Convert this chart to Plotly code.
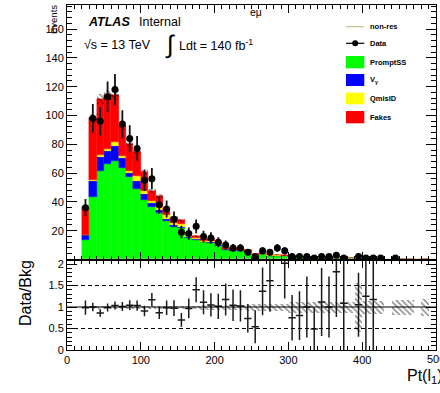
import numpy as np
import plotly.graph_objects as go

# ---------------------------------------------------------------------------
# Binning: leading-lepton pT, 10 GeV bins from 20 to 500 GeV
# ---------------------------------------------------------------------------
bin_low, bin_high, bin_width = 20, 500, 10

# Observed events per bin
data_counts = [36, 98, 96, 113, 118, 94, 84, 77, 55, 56,
               38, 35, 28, 19, 18, 23, 16, 15, 12, 10,
               8, 8, 5, 2, 6, 5, 8, 6, 2, 2,
               2, 1, 2, 2, 3, 1, 0, 2, 1, 1,
               1, 0, 1, 0, 0, 0, 0, 0]

# Background predictions (stacked, bottom to top)
prompt_ss = [13.5, 43.6, 61.4, 66.3, 68.4, 63.2, 57.6, 48.9, 41.3, 36.2,
             32.5, 26.9, 22.8, 21.6, 15.0, 13.5, 12.0, 11.6, 9.6, 6.8,
             6.2, 6.2, 5.4, 2.9, 3.5, 2.5, 2.6, 2.4, 2.1, 2.0,
             1.6, 1.6, 1.4, 1.6, 1.3, 0.7, 0.8, 1.5, 0.65, 0.7,
             0.4, 0.0, 0.3, 0.4, 0.3, 0.0, 0.3, 0.0]
v_gamma = [3.5, 11.1, 10.0, 9.0, 10.6, 7.4, 2.3, 5.8, 4.0, 2.8,
           1.8, 1.5, 1.0, 1.0, 0.8, 0.6, 0.5, 0.5, 0.4, 0.3,
           0.3, 0.3, 0.3, 0.2, 0.15, 0.15, 0.15, 0.15, 0.15, 0.15,
           0.05, 0.05, 0.05, 0.05, 0.05, 0.05, 0.05, 0.05, 0.05, 0.05,
           0.0, 0.0, 0.0, 0.0, 0.0, 0.0, 0.0, 0.0]
qmis_id = [0.3, 0.6, 1.1, 1.4, 2.4, 1.5, 1.6, 3.5, 2.2, 1.8,
           2.0, 2.3, 1.5, 1.8, 1.2, 0.8, 0.6, 0.6, 0.5, 0.4,
           0.3, 0.3, 0.3, 0.2, 0.15, 0.15, 0.15, 0.15, 0.15, 0.15,
           0.1, 0.1, 0.1, 0.1, 0.1, 0.1, 0.1, 0.1, 0.1, 0.1,
           0.0, 0.0, 0.0, 0.0, 0.0, 0.0, 0.0, 0.0]
fakes = [19.2, 42.7, 39.0, 37.3, 32.6, 20.9, 19.0, 16.3, 13.0, 7.0,
         7.7, 4.9, 3.5, 2.8, 1.6, 1.5, 1.3, 1.6, 1.3, 1.0,
         0.9, 1.0, 0.8, 0.4, 0.6, 0.3, 0.3, 0.27, 0.27, 0.2,
         0.25, 0.29, 0.24, 0.25, 0.2, 0.07, 0.05, 0.25, 0.0, 0.0,
         0.0, 0.0, 0.0, 0.0, 0.0, 0.0, 0.0, 0.0]
# Non-resonant contribution, drawn as an unfilled line
non_res = [0.3] * 48

# Relative MC statistical uncertainty of the total background
mc_stat_rel = ([0.03] * 10 + [0.04] * 6 + [0.06] * 6 + [0.09] * 6 +
               [0.12] * 9 + [0.57] + [0.15] * 3 + [0.0] + [0.17] * 3 +
               [0.0] + [0.2] + [0.0])

x_tick_vals = [0, 100, 200, 300, 400, 500]
x_tick_text = ["0", "100", "200", "300", "400", ""]
y_tick_vals = [20, 40, 60, 80, 100, 120, 140, 160]
ratio_tick_vals = [0, 0.5, 1, 1.5, 2]
ratio_tick_text = ["0", "0.5", "1", "1.5", "2"]

# ---------------------------------------------------------------------------
edges = np.arange(bin_low, bin_high + bin_width, bin_width)
centers = 0.5 * (edges[:-1] + edges[1:])
data = np.array(data_counts, dtype=float)
layers = [
    ("PromptSS", np.array(prompt_ss), "#00ff00"),
    ("V<sub>γ</sub>", np.array(v_gamma), "#0000ff"),
    ("QmisID", np.array(qmis_id), "#ffff00"),
    ("Fakes", np.array(fakes), "#ff0000"),
]
total = sum(l[1] for l in layers)
rel = np.array(mc_stat_rel)

y_max = 176.7
r_max = 2.105

FONT = "Liberation Sans, Arial, Helvetica, sans-serif"
W, H = 440, 393
ML, MR, MT, MB = 67, 4, 5, 43
PW, PH = W - ML - MR, H - MT - MB


def px(xp):
    return (xp - ML) / PW


def py(yp):
    return (H - MB - yp) / PH


split = py(259.5)

hatch = dict(shape="\\", fgcolor="black", bgcolor="rgba(0,0,0,0)",
             size=4, solidity=0.35, fillmode="overlay")

fig = go.Figure()

# stacked backgrounds
base = np.zeros_like(total)
for name, vals, col in layers:
    fig.add_trace(go.Bar(
        x=centers, y=vals, base=base.copy(), width=bin_width,
        marker=dict(color=col, line=dict(color=col, width=0.4)),
        name=name, showlegend=False, xaxis="x", yaxis="y"))
    base = base + vals

# MC stat band on the total background
has_bkg = total > 0
fig.add_trace(go.Bar(
    x=centers[has_bkg], y=(2 * total * rel)[has_bkg],
    base=(total * (1 - rel))[has_bkg], width=bin_width,
    marker=dict(color="rgba(0,0,0,0)", line=dict(width=0), pattern=hatch),
    showlegend=False, xaxis="x", yaxis="y"))

# non-resonant line
fig.add_trace(go.Scatter(
    x=list(edges), y=list(non_res) + [non_res[-1]], mode="lines",
    line=dict(color="#cdbf93", width=1, shape="hv"),
    showlegend=False, xaxis="x", yaxis="y"))

# data points
has_data = data > 0
fig.add_trace(go.Scatter(
    x=centers[has_data], y=data[has_data], mode="markers",
    marker=dict(color="black", size=7, symbol="circle"),
    error_y=dict(type="data", array=np.sqrt(data[has_data]), color="#111111",
                 thickness=1.8, width=0),
    showlegend=False, xaxis="x", yaxis="y"))

# ratio panel: MC stat band around unity
fig.add_trace(go.Bar(
    x=centers[has_bkg], y=(2 * rel)[has_bkg], base=(1 - rel)[has_bkg],
    width=bin_width,
    marker=dict(color="rgba(0,0,0,0)", line=dict(width=0), pattern=hatch),
    showlegend=False, xaxis="x2", yaxis="y2"))

# ratio points (those above the displayed range are not drawn)
with np.errstate(divide="ignore", invalid="ignore"):
    ratio = np.where(has_bkg & has_data, data / np.where(has_bkg, total, 1), np.nan)
    ratio_err = np.where(has_bkg & has_data, np.sqrt(data) / np.where(has_bkg, total, 1), np.nan)
show = np.isfinite(ratio) & (ratio <= r_max)
fig.add_trace(go.Scatter(
    x=centers[show], y=ratio[show], mode="markers",
    marker=dict(color="black", size=1, opacity=0),
    error_y=dict(type="data", array=ratio_err[show], color="#1a1a1a",
                 thickness=1.5, width=0),
    error_x=dict(type="constant", value=bin_width / 2, color="#1a1a1a",
                 thickness=1.5, width=0),
    showlegend=False, xaxis="x2", yaxis="y2"))

axis_common = dict(showline=True, linecolor="black", linewidth=1, mirror="ticks",
                   ticks="inside", tickcolor="black", showgrid=False, zeroline=False,
                   tickfont=dict(family=FONT, size=11, color="black"))

fig.update_layout(
    width=W, height=H, margin=dict(l=ML, r=MR, t=MT, b=MB),
    paper_bgcolor="white", plot_bgcolor="white", barmode="overlay", bargap=0,
    showlegend=False,
    xaxis=dict(domain=[0, 1], anchor="y", range=[0, 500], tickvals=x_tick_vals,
               showticklabels=False, ticklen=8,
               minor=dict(dtick=10, ticks="inside", ticklen=4, tickcolor="black"),
               **axis_common),
    yaxis=dict(domain=[split, 1], anchor="x", range=[0, y_max], tickvals=y_tick_vals,
               ticklen=10,
               minor=dict(dtick=4, ticks="inside", ticklen=5, tickcolor="black"),
               **axis_common),
    xaxis2=dict(domain=[0, 1], anchor="y2", range=[0, 500], matches="x",
                tickvals=x_tick_vals, ticktext=x_tick_text, ticklen=8,
                minor=dict(dtick=10, ticks="inside", ticklen=4, tickcolor="black"),
                **axis_common),
    yaxis2=dict(domain=[0, split], anchor="x2", range=[0, r_max],
                tickvals=ratio_tick_vals, ticktext=ratio_tick_text, ticklen=10,
                minor=dict(dtick=0.1, ticks="inside", ticklen=5, tickcolor="black"),
                **axis_common),
)

shapes = []
# reference lines in the ratio panel
shapes.append(dict(type="line", xref="x2", yref="y2", x0=0, x1=500, y0=1, y1=1,
                   line=dict(color="black", width=1.2)))
for lvl in (0.5, 1.5):
    shapes.append(dict(type="line", xref="x2", yref="y2", x0=0, x1=500, y0=lvl, y1=lvl,
                       line=dict(color="black", width=1, dash="4px,3px")))

# legend
leg_x0, leg_x1, leg_text_x = 346, 364.3, 367.7
shapes.append(dict(type="line", xref="paper", yref="paper", x0=px(leg_x0), x1=px(leg_x1),
                   y0=py(26.7), y1=py(26.7), line=dict(color="#cdbf93", width=1.2)))
shapes.append(dict(type="line", xref="paper", yref="paper", x0=px(leg_x0), x1=px(leg_x1),
                   y0=py(43.3), y1=py(43.3), line=dict(color="black", width=1.2)))
shapes.append(dict(type="circle", xref="paper", yref="paper", x0=px(352.2), x1=px(358.2),
                   y0=py(46.3), y1=py(40.3), fillcolor="black", line=dict(color="black", width=0)))
box_rows = [(56, 68.3), (74, 86), (92.7, 104.3), (111, 123.3)]
for (top, bot), (name, _, col) in zip(box_rows, layers):
    shapes.append(dict(type="rect", xref="paper", yref="paper", x0=px(leg_x0), x1=px(leg_x1),
                       y0=py(bot), y1=py(top), fillcolor=col, line=dict(width=0)))

leg_labels = [("non-res", 26.7), ("Data", 43.3)] + [
    (name, 0.5 * (t + b)) for (t, b), (name, _, _) in zip(box_rows, layers)]

annotations = []
for txt, yc in leg_labels:
    annotations.append(dict(text="<b>%s</b>" % txt, x=px(leg_text_x), y=py(yc),
                            xref="paper", yref="paper", xanchor="left", yanchor="middle",
                            showarrow=False, font=dict(family=FONT, size=7.5, color="black")))


def label(text, x, y, size, xanchor="left", yanchor="middle", angle=0):
    annotations.append(dict(text=text, x=px(x), y=py(y), xref="paper", yref="paper",
                            xanchor=xanchor, yanchor=yanchor, showarrow=False,
                            textangle=angle,
                            font=dict(family=FONT, size=size, color="black")))


label("<b><i>ATLAS</i></b>", 86, 22, 12.5)
label("Internal", 137, 22, 12.5)
label("eμ", 248, 12.5, 10.5)
label("√s = 13 TeV", 82, 45, 12.5)
label("∫", 163, 44, 25)
label("Ldt = 140 fb<sup>-1</sup>", 177, 45, 12.5)
label("Events", 53.5, 3, 9.5, xanchor="center", yanchor="top", angle=-90)
label("Data/Bkg", 25, 293, 16, xanchor="center", angle=-90)
label("Pt(l<sub>1</sub>)", 405, 376, 16)
# last x tick label sits on the right edge of the frame
label("500", ML + PW, 358.5, 11, xanchor="center")

fig.update_layout(shapes=shapes, annotations=annotations)

fig.write_html("out.html")
